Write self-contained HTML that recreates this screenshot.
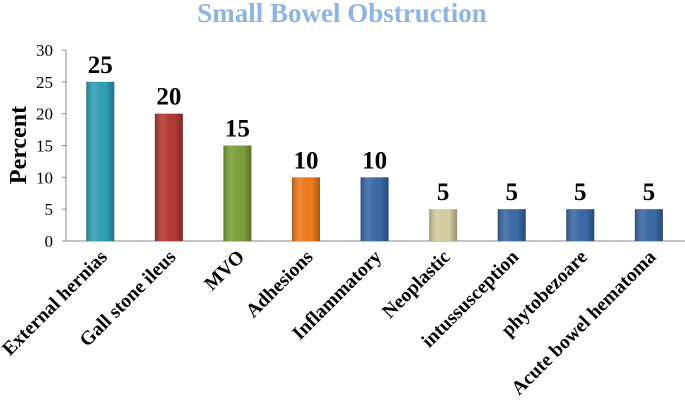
<!DOCTYPE html>
<html><head><meta charset="utf-8"><style>
body{margin:0;background:#fff;}
svg{display:block;font-family:"Liberation Serif",serif;}
</style></head><body>
<svg id="chart" width="685" height="400">
<defs>
<linearGradient id="shade" x1="0" x2="1" y1="0" y2="0">
<stop offset="0" stop-color="#000" stop-opacity="0.25"/>
<stop offset="0.3" stop-color="#fff" stop-opacity="0.1"/>
<stop offset="0.7" stop-color="#000" stop-opacity="0"/>
<stop offset="1" stop-color="#000" stop-opacity="0.3"/>
</linearGradient>
</defs>
<text x="342" y="22" text-anchor="middle" font-size="27" font-weight="bold" fill="#8eb4e3">Small Bowel Obstruction</text>
<text transform="translate(26,145) rotate(-90)" text-anchor="middle" font-size="24" font-weight="bold">Percent</text>
</svg>
<script>
const categories=["External hernias","Gall stone ileus","MVO","Adhesions","Inflammatory","Neoplastic","intussusception","phytobezoare","Acute bowel hematoma"];
const values=[25,20,15,10,10,5,5,5,5];
const colors=["#31a0b8","#b43a36","#7ea03a","#f07b1c","#3b6aa6","#d6cfa2","#3b6aa6","#3b6aa6","#3b6aa6"];
const yTicks=[0,5,10,15,20,25,30];
const NS="http://www.w3.org/2000/svg";
const svg=document.getElementById('chart');
const x0=66,x1=685,y0=241,y1=50,yMax=30;
const y=v=>y0-(y0-y1)*v/yMax;
const step=(x1-x0)/categories.length*0.997;
const xc=i=>x0+step*(i+0.5);
function mk(t,a){const e=document.createElementNS(NS,t);for(const k in a)e.setAttribute(k,a[k]);svg.appendChild(e);return e;}
let ax=mk('line',{x1:x0,y1:y1,x2:x0,y2:y0,stroke:'#888'});


let bx=mk('line',{x1:x0,y1:y0,x2:x1,y2:y0,stroke:'#888'});


yTicks.forEach(v=>{
 let tk=mk('line',{x1:x0-4,x2:x0,y1:y(v),y2:y(v),stroke:'#888'});
 
 
 let t=mk('text',{x:x0-13,y:y(v)+6,'text-anchor':'end','font-size':'17'});
 t.textContent=v;
 
 
});
categories.forEach((c,i)=>{
 const w=28,cx=xc(i),top=y(values[i]);
 let r=mk('rect',{x:cx-w/2,y:top,width:w,height:y0-top,fill:colors[i]});
 
 
 let s=mk('rect',{x:cx-w/2,y:top,width:w,height:y0-top,fill:'url(#shade)'});
 
 
 let v=mk('text',{x:cx,y:top-9,'text-anchor':'middle','font-size':'25','font-weight':'bold'});
 v.textContent=values[i];
 
 
 let l=mk('text',{transform:`translate(${cx+8},${y0+17}) rotate(-45)`,'text-anchor':'end','font-size':'19.5','font-weight':'bold'});
 l.textContent=c;
 
 
});
</script>
</body></html>
